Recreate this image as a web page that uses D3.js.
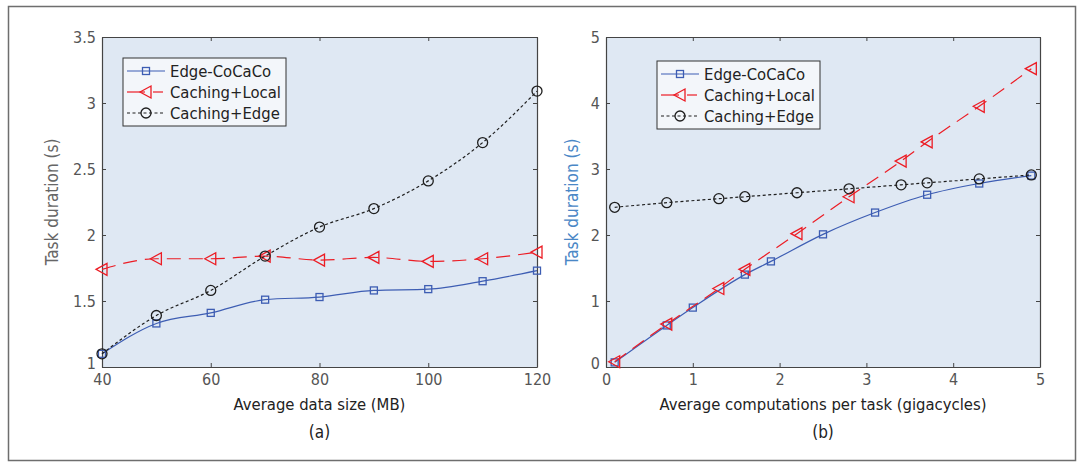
<!DOCTYPE html>
<html>
<head>
<meta charset="utf-8">
<script src="https://cdn.jsdelivr.net/npm/d3@7"></script>
<style>
    body { margin: 0; background: #fff; }
    svg text { font-family: "Liberation Sans Narrow", "DejaVu Sans Condensed", "Roboto", sans-serif; }
</style>
</head>
<body>
<div id="chart"></div>
<script>
// --- Data ---
const seriesNames = ["Edge-CoCaCo", "Caching+Local", "Caching+Edge"];

// panel (a): average data size (MB)
const sizeX = [40, 50, 60, 70, 80, 90, 100, 110, 120];
const sizeCoCaCo = [1.10, 1.33, 1.41, 1.51, 1.53, 1.58, 1.59, 1.65, 1.73];
const sizeLocal = [1.74, 1.82, 1.82, 1.84, 1.81, 1.83, 1.80, 1.82, 1.87];
const sizeEdge = [1.10, 1.39, 1.58, 1.84, 2.06, 2.20, 2.41, 2.70, 3.09];
const sizeXTicks = [40, 60, 80, 100, 120];
const sizeYTicks = [1, 1.5, 2, 2.5, 3, 3.5];

// panel (b): average computations per task (gigacycles)
const compXCoCaCo = [0.1, 0.7, 1.0, 1.6, 1.9, 2.5, 3.1, 3.7, 4.3, 4.9];
const compCoCaCo = [0.07, 0.63, 0.90, 1.40, 1.60, 2.01, 2.34, 2.61, 2.78, 2.90];
const compXOther = [0.1, 0.7, 1.3, 1.6, 2.2, 2.8, 3.4, 3.7, 4.3, 4.9];
const compLocal = [0.08, 0.65, 1.19, 1.48, 2.02, 2.58, 3.12, 3.41, 3.95, 4.52];
const compEdge = [2.42, 2.49, 2.55, 2.58, 2.64, 2.70, 2.76, 2.79, 2.85, 2.91];
const compXTicks = [0, 1, 2, 3, 4, 5];
const compYTicks = [0, 1, 2, 3, 4, 5];

// --- Styles ---
const styles = {
    "Edge-CoCaCo": { color: "#3d5db3", dash: null, marker: "square" },
    "Caching+Local": { color: "#ec1c24", dash: "14,8", marker: "triangle" },
    "Caching+Edge": { color: "#1e1e1e", dash: "3,2.5", marker: "circle" }
};

const W = 1085, H = 462;
const svg = d3.select("#chart").append("svg")
    .attr("width", W)
    .attr("height", H);

// outer frame of the figure
svg.append("rect")
    .attr("x", 8.5).attr("y", 6.5)
    .attr("width", 1067).attr("height", 454)
    .attr("fill", "none")
    .attr("stroke", "#6e6e6e")
    .attr("stroke-width", 1.5);

function drawMarker(g, type, x, y, color) {
    if (type === "square") {
        g.append("rect")
            .attr("x", x - 3.5).attr("y", y - 3.5)
            .attr("width", 7).attr("height", 7)
            .attr("fill", "none").attr("stroke", color).attr("stroke-width", 1.3);
    } else if (type === "triangle") {
        // left pointing triangle
        g.append("path")
            .attr("d", `M${x - 6},${y} L${x + 5},${y - 6} L${x + 5},${y + 6} Z`)
            .attr("fill", "none").attr("stroke", color).attr("stroke-width", 1.3);
    } else {
        g.append("circle")
            .attr("cx", x).attr("cy", y).attr("r", 5)
            .attr("fill", "none").attr("stroke", color).attr("stroke-width", 1.3);
    }
}

function drawPanel(cfg) {
    const { left, right, top, bottom } = cfg.box;
    const x = d3.scaleLinear().domain(cfg.xDomain).range([left, right]);
    const y = d3.scaleLinear().domain(cfg.yDomain).range([bottom, top]);
    const g = svg.append("g");

    // plot background
    g.append("rect")
        .attr("x", left).attr("y", top)
        .attr("width", right - left).attr("height", bottom - top)
        .attr("fill", "#dfe8f3");

    // axes: ticks inward on all four sides
    const fmt = d => String(d);
    const axes = [
        { a: d3.axisBottom(x).tickValues(cfg.xTicks).tickFormat(fmt).tickPadding(7), t: `translate(0,${bottom})` },
        { a: d3.axisTop(x).tickValues(cfg.xTicks).tickFormat(""), t: `translate(0,${top})` },
        { a: d3.axisLeft(y).tickValues(cfg.yTicks).tickFormat(fmt).tickPadding(6), t: `translate(${left},0)` },
        { a: d3.axisRight(y).tickValues(cfg.yTicks).tickFormat(""), t: `translate(${right},0)` }
    ];
    axes.forEach(ax => {
        const ag = g.append("g")
            .attr("transform", ax.t)
            .call(ax.a.tickSizeInner(-4).tickSizeOuter(0));
        ag.select(".domain").attr("stroke", "#444").attr("stroke-width", 1.2);
        ag.selectAll(".tick line").attr("stroke", "#444");
        ag.selectAll(".tick text")
            .attr("fill", "#555")
            .style("font-size", "16px");
    });
    // lift the lowest y label a little so it clears the first x label
    g.selectAll(".tick text").filter(d => d === cfg.yDomain[0] && cfg.yTicks.includes(d))
        .filter(function () { return this.getAttribute("x") < 0; })
        .attr("dy", "0.1em");

    // lines and markers
    cfg.series.forEach(s => {
        const st = styles[s.name];
        const pts = s.xs.map((xv, i) => [x(xv), y(s.ys[i])]);
        g.append("path")
            .attr("d", d3.line().curve(d3.curveMonotoneX)(pts))
            .attr("fill", "none")
            .attr("stroke", st.color)
            .attr("stroke-width", 1.2)
            .attr("stroke-dasharray", st.dash);
        const mg = g.append("g");
        pts.forEach(p => drawMarker(mg, st.marker, p[0], p[1], st.color));
    });

    // legend
    const lg = g.append("g").attr("transform", `translate(${cfg.legend[0]},${cfg.legend[1]})`);
    lg.append("rect")
        .attr("width", 163).attr("height", 68)
        .attr("fill", "#f3f6fa")
        .attr("stroke", "#333").attr("stroke-width", 1);
    seriesNames.forEach((name, i) => {
        const st = styles[name];
        const ly = 13 + i * 21;
        if (name === "Caching+Local") {
            lg.append("line").attr("x1", 4).attr("x2", 22).attr("y1", ly).attr("y2", ly)
                .attr("stroke", st.color).attr("stroke-width", 1.2);
            lg.append("line").attr("x1", 30).attr("x2", 40).attr("y1", ly).attr("y2", ly)
                .attr("stroke", st.color).attr("stroke-width", 1.2);
        } else {
            lg.append("line").attr("x1", 4).attr("x2", 42).attr("y1", ly).attr("y2", ly)
                .attr("stroke", st.color).attr("stroke-width", 1.2)
                .attr("stroke-dasharray", st.dash);
        }
        drawMarker(lg, st.marker, 23, ly, st.color);
        lg.append("text")
            .attr("x", 47).attr("y", ly + 6)
            .attr("fill", "#222")
            .style("font-size", "16.5px")
            .text(name);
    });

    // axis titles
    const cx = (left + right) / 2;
    g.append("text")
        .attr("x", cx).attr("y", bottom + 43)
        .attr("text-anchor", "middle")
        .attr("fill", "#222")
        .style("font-size", "16.5px")
        .text(cfg.xTitle);
    g.append("text")
        .attr("x", cx).attr("y", bottom + 71)
        .attr("text-anchor", "middle")
        .attr("fill", "#222")
        .style("font-size", "17px")
        .text(cfg.caption);
    g.append("text")
        .attr("transform", `translate(${cfg.yTitleX},${(top + bottom) / 2}) rotate(-90)`)
        .attr("text-anchor", "middle")
        .attr("fill", cfg.yTitleColor)
        .style("font-size", "17px")
        .text("Task duration (s)");
}

drawPanel({
    box: { left: 102, right: 537, top: 37, bottom: 367 },
    xDomain: [40, 120], yDomain: [1, 3.5],
    xTicks: sizeXTicks, yTicks: sizeYTicks,
    series: [
        { name: "Edge-CoCaCo", xs: sizeX, ys: sizeCoCaCo },
        { name: "Caching+Local", xs: sizeX, ys: sizeLocal },
        { name: "Caching+Edge", xs: sizeX, ys: sizeEdge }
    ],
    legend: [123, 58],
    xTitle: "Average data size (MB)",
    caption: "(a)",
    yTitleX: 58,
    yTitleColor: "#666"
});

drawPanel({
    box: { left: 606, right: 1040, top: 37, bottom: 367 },
    xDomain: [0, 5], yDomain: [0, 5],
    xTicks: compXTicks, yTicks: compYTicks,
    series: [
        { name: "Edge-CoCaCo", xs: compXCoCaCo, ys: compCoCaCo },
        { name: "Caching+Local", xs: compXOther, ys: compLocal },
        { name: "Caching+Edge", xs: compXOther, ys: compEdge }
    ],
    legend: [657, 61],
    xTitle: "Average computations per task (gigacycles)",
    caption: "(b)",
    yTitleX: 578,
    yTitleColor: "#4a87c6"
});
</script>
</body>
</html>
